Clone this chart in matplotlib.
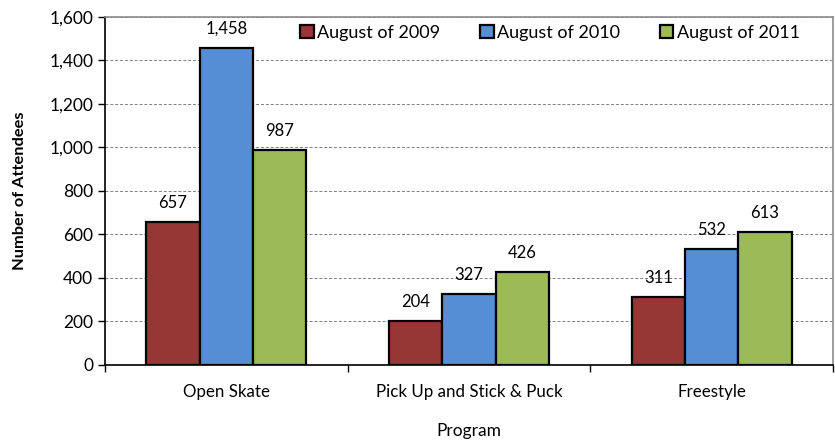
import matplotlib.pyplot as plt
import numpy as np

programs = ["Open Skate", "Pick Up and Stick & Puck", "Freestyle"]
series = ["August of 2009", "August of 2010", "August of 2011"]
aug_2009 = [657, 204, 311]
aug_2010 = [1458, 327, 532]
aug_2011 = [987, 426, 613]
colors = ["#953735", "#558ED5", "#9BBB59"]

plt.rcParams["font.family"] = ["Lato", "DejaVu Sans"]

fig = plt.figure(figsize=(8.35, 4.45), dpi=100)
ax = fig.add_axes([0.1257, 0.1798, 0.8719, 0.782])

x = np.arange(len(programs))
width = 0.22
for i, (name, vals) in enumerate(zip(series, [aug_2009, aug_2010, aug_2011])):
    pos = x + (i - 1) * width
    bars = ax.bar(pos, vals, width, color=colors[i], edgecolor="black",
                  linewidth=1.6, label=name, zorder=3)
    for b, v in zip(bars, vals):
        ax.annotate(f"{v:,}", (b.get_x() + b.get_width() / 2, v),
                    xytext=(0, 8), textcoords="offset points",
                    ha="center", va="bottom", fontsize=12)

ax.set_xlim(-0.5, len(programs) - 0.5)
ax.set_ylim(0, 1600)
ax.set_yticks(np.arange(0, 1601, 200))
ax.set_yticklabels([f"{t:,}" for t in range(0, 1601, 200)], fontsize=12.5)
ax.set_xticks(x)
ax.set_xticklabels(programs, fontsize=12.2)
ax.set_xticks(np.arange(-0.5, len(programs)), minor=True)
ax.tick_params(axis="x", which="major", length=0, pad=14)
ax.tick_params(axis="x", which="minor", length=5, width=1)
ax.tick_params(axis="y", length=5, width=1)

ax.grid(axis="y", linestyle=(0, (3, 2)), color="#808080", linewidth=0.7, zorder=0)

for s in ["left", "bottom"]:
    ax.spines[s].set_color("black")
    ax.spines[s].set_linewidth(1.2)
for s in ["top", "right"]:
    ax.spines[s].set_color("#8c8c8c")
    ax.spines[s].set_linewidth(1.2)

ax.set_ylabel("Number of Attendees", fontsize=11.8, fontweight="bold", labelpad=16)
ax.set_xlabel("Program", fontsize=12.5, labelpad=16)

ax.legend(loc="upper left", ncol=3, frameon=False, fontsize=13,
          handlelength=0.75, handleheight=0.75, handletextpad=0.2,
          columnspacing=2.2, borderpad=0, borderaxespad=0,
          bbox_to_anchor=(0.268, 0.977))

fig.savefig("out.png", dpi=100)
